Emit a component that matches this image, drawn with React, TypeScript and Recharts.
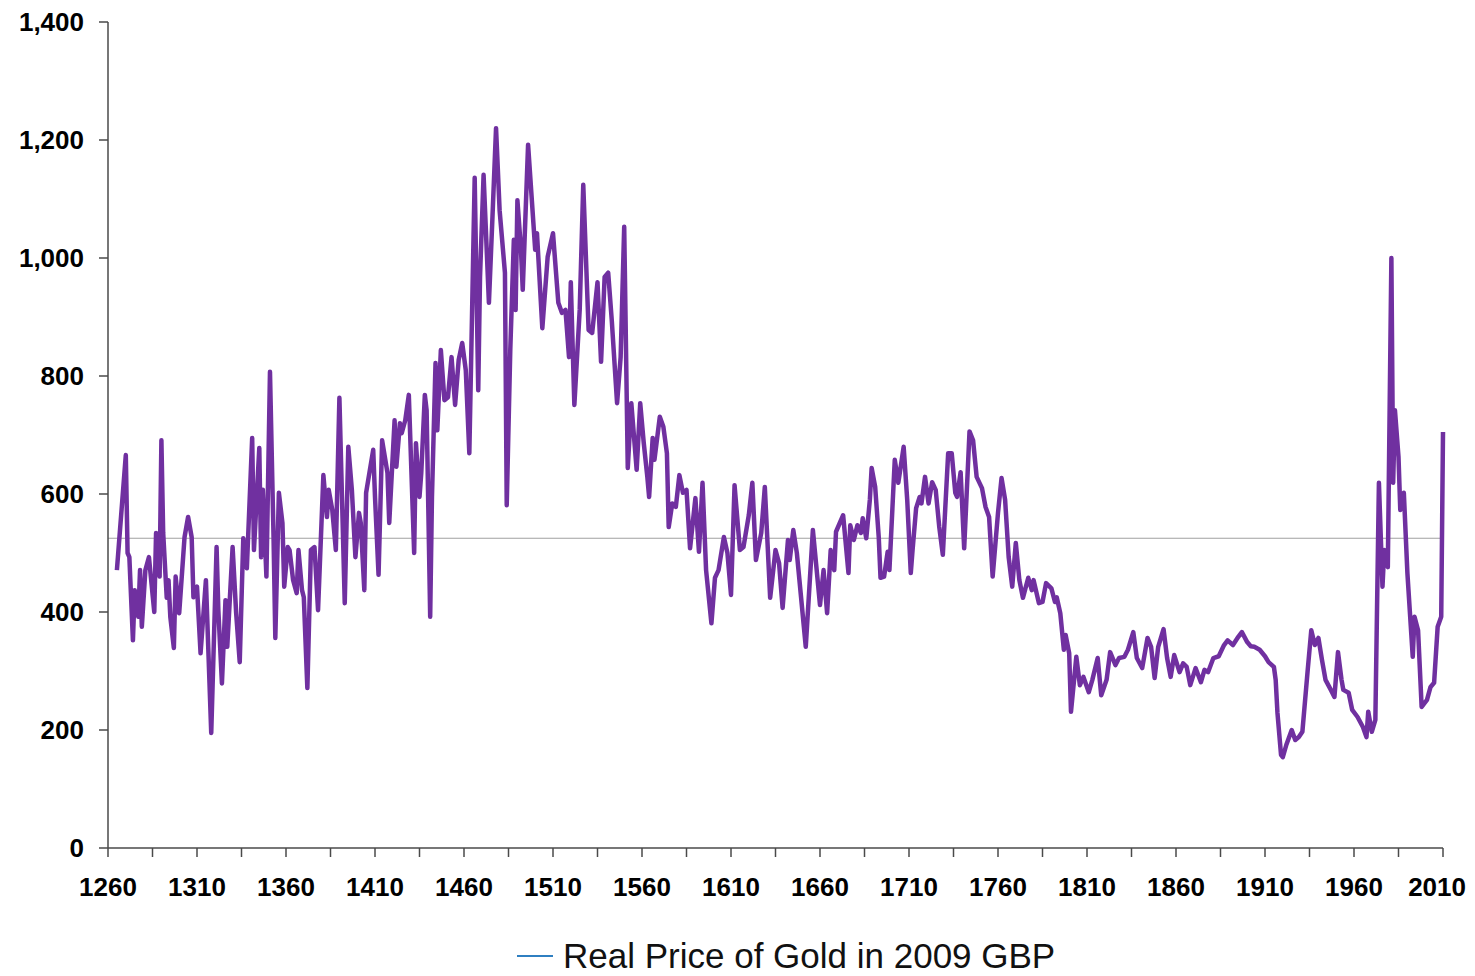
import React from 'react';
import { LineChart, Line, XAxis, YAxis, ReferenceLine, Legend } from 'recharts';

const years = [
  1265, 1270, 1271, 1272, 1274, 1275, 1277, 1278, 1279, 1281, 1283, 1286, 1287, 1289, 1290, 1291, 1293, 1294, 1295, 1297,
  1298, 1300, 1303, 1305, 1307, 1308, 1310, 1312, 1315, 1318, 1321, 1322, 1324, 1326, 1327, 1330, 1332, 1334, 1336, 1338,
  1341, 1342, 1345, 1346, 1347, 1349, 1351, 1353, 1354, 1356, 1358, 1359, 1361, 1362, 1364, 1366, 1367, 1369, 1370, 1372,
  1374, 1376, 1378, 1381, 1383, 1384, 1386, 1388, 1390, 1393, 1395, 1397, 1399, 1401, 1402, 1404, 1405, 1409, 1410, 1412,
  1414, 1417, 1418, 1421, 1422, 1424, 1425, 1427, 1429, 1432, 1433, 1435, 1436, 1438, 1439, 1441, 1442, 1444, 1445, 1447,
  1449, 1451, 1453, 1455, 1457, 1459, 1461, 1463, 1466, 1468, 1469, 1471, 1474, 1476, 1478, 1480, 1483, 1484, 1486, 1488,
  1489, 1490, 1492, 1493, 1496, 1500, 1501, 1504, 1507, 1510, 1513, 1515, 1517, 1519, 1520, 1522, 1525, 1527, 1530, 1532,
  1535, 1537, 1539, 1541, 1543, 1546, 1548, 1550, 1552, 1554, 1557, 1559, 1561, 1563, 1564, 1566, 1567, 1570, 1572, 1574,
  1575, 1577, 1579, 1581, 1583, 1585, 1587, 1590, 1592, 1594, 1596, 1599, 1601, 1603, 1606, 1608, 1610, 1612, 1615, 1617,
  1620, 1622, 1624, 1627, 1629, 1632, 1635, 1637, 1639, 1642, 1643, 1645, 1647, 1652, 1656, 1660, 1662, 1664, 1666, 1668,
  1669, 1673, 1676, 1677, 1679, 1681, 1683, 1684, 1686, 1688, 1689, 1691, 1693, 1694, 1696, 1698, 1699, 1702, 1704, 1707,
  1709, 1711, 1712, 1714, 1716, 1717, 1719, 1721, 1723, 1725, 1727, 1729, 1732, 1734, 1736, 1737, 1739, 1741, 1744, 1746,
  1748, 1751, 1753, 1755, 1757, 1760, 1762, 1764, 1766, 1768, 1770, 1772, 1774, 1777, 1779, 1780, 1783, 1785, 1787, 1790,
  1792, 1793, 1795, 1797, 1798, 1800, 1801, 1804, 1806, 1808, 1811, 1813, 1816, 1818, 1821, 1823, 1826, 1828, 1831, 1833,
  1836, 1838, 1841, 1844, 1846, 1848, 1850, 1853, 1855, 1857, 1859, 1862, 1864, 1866, 1868, 1871, 1874, 1876, 1878, 1881,
  1884, 1887, 1889, 1892, 1895, 1897, 1900, 1902, 1904, 1907, 1910, 1912, 1915, 1916, 1917, 1919, 1920, 1922, 1925, 1927,
  1929, 1931, 1934, 1936, 1938, 1940, 1942, 1944, 1947, 1949, 1951, 1953, 1954, 1957, 1959, 1962, 1965, 1967, 1968, 1970,
  1972, 1974, 1976, 1977, 1979, 1981, 1982, 1983, 1985, 1986, 1988, 1990, 1993, 1994, 1996, 1998, 2001, 2003, 2005, 2007,
  2009, 2010,
];

const prices = [
  471, 666, 500, 493, 352, 437, 392, 471, 375, 471, 493, 400, 534, 460, 691, 534, 424, 454, 392, 339,
  460, 398, 527, 561, 527, 425, 443, 330, 454, 195, 510, 403, 279, 420, 341, 510, 398, 315, 525, 474,
  695, 505, 678, 493, 607, 460, 807, 527, 356, 602, 551, 443, 510, 505, 454, 432, 505, 437, 425, 271,
  505, 510, 403, 632, 561, 607, 573, 505, 763, 415, 680, 607, 493, 568, 551, 437, 602, 675, 595, 463,
  691, 636, 551, 725, 646, 720, 703, 725, 768, 500, 686, 595, 636, 768, 742, 392, 595, 822, 708, 844,
  759, 764, 832, 751, 827, 856, 810, 669, 1136, 776, 968, 1141, 924, 1070, 1220, 1081, 975, 581, 844, 1031,
  912, 1098, 1014, 946, 1192, 1014, 1042, 881, 1002, 1042, 924, 907, 912, 832, 959, 751, 912, 1124, 878, 873,
  959, 824, 968, 975, 895, 754, 832, 1053, 644, 754, 641, 754, 686, 629, 595, 695, 658, 731, 714, 669,
  544, 584, 578, 632, 602, 607, 508, 593, 502, 619, 471, 381, 458, 471, 527, 500, 429, 615, 505, 510,
  564, 619, 488, 534, 612, 424, 505, 483, 407, 522, 488, 539, 500, 341, 539, 412, 471, 398, 505, 471,
  536, 564, 466, 547, 522, 547, 534, 559, 525, 590, 644, 612, 527, 458, 460, 502, 471, 658, 619, 680,
  590, 466, 505, 576, 595, 584, 629, 584, 620, 607, 544, 497, 669, 669, 602, 595, 637, 508, 706, 691,
  629, 610, 578, 561, 460, 568, 627, 590, 493, 443, 517, 454, 424, 458, 437, 454, 415, 417, 449, 440,
  417, 425, 398, 336, 361, 330, 231, 324, 276, 290, 264, 285, 322, 259, 285, 332, 310, 322, 324, 336,
  366, 322, 305, 356, 341, 288, 341, 371, 322, 290, 327, 298, 313, 307, 276, 305, 281, 302, 298, 322,
  325, 344, 352, 344, 358, 366, 349, 342, 341, 336, 325, 315, 307, 285, 229, 158, 154, 175, 200, 183,
  188, 197, 302, 369, 344, 356, 319, 285, 268, 256, 332, 285, 268, 263, 234, 222, 205, 188, 231, 197,
  217, 619, 443, 505, 476, 1000, 619, 742, 663, 573, 602, 466, 324, 392, 369, 239, 251, 273, 280, 375,
  392, 705,
];

const averagePrice = 525;

const xTicks = [
  1260, 1285, 1310, 1335, 1360, 1385, 1410, 1435, 1460, 1485, 1510, 1535, 1560, 1585, 1610, 1635,
  1660, 1685, 1710, 1735, 1760, 1785, 1810, 1835, 1860, 1885, 1910, 1935, 1960, 1985, 2010,
];
const yTicks = [0, 200, 400, 600, 800, 1000, 1200, 1400];

const seriesName = 'Real Price of Gold in 2009 GBP';

const data = years.map((year, i) => ({ year, price: prices[i] }));

const FONT = '"Liberation Sans", Arial, sans-serif';

const tickStyle = {
  fontFamily: FONT,
  fontWeight: 700,
  fontSize: 26,
  fill: '#000',
};

const lastXTick = xTicks[xTicks.length - 1];

const XTick = (props: any) => {
  const { x, y, payload } = props;
  const v = payload.value;
  if ((v - 1260) % 50 !== 0) return null;
  const isLast = v === lastXTick;
  return (
    <text
      x={isLast ? x + 23 : x}
      y={y}
      dy="0.71em"
      textAnchor={isLast ? 'end' : 'middle'}
      fontFamily={FONT}
      fontWeight={700}
      fontSize={26}
      fill="#000"
    >
      {String(v)}
    </text>
  );
};

const renderLegend = () => (
  <div
    style={{
      height: 24,
      display: 'flex',
      alignItems: 'center',
      paddingLeft: 509,
      fontFamily: FONT,
      fontSize: 35,
      color: '#111',
      whiteSpace: 'nowrap',
    }}
  >
    <span style={{ display: 'inline-block', width: 36, height: 2, background: '#2f7fc1', marginRight: 10 }} />
    <span>{seriesName}</span>
  </div>
);

export default function App() {
  return (
    <div style={{ width: 1459, height: 960 }}>
      <style>{'html { overflow: hidden; }'}</style>
      <LineChart
        width={1459}
        height={960}
        data={data}
        margin={{ top: 14, right: 24, bottom: 0, left: 0 }}
      >
        <XAxis
          dataKey="year"
          type="number"
          domain={[1260, 2010]}
          ticks={xTicks}
          interval={0}
          height={96}
          tick={<XTick />}
          tickSize={9}
          tickMargin={21}
          axisLine={{ stroke: '#4a4a4a', strokeWidth: 1.5 }}
          tickLine={{ stroke: '#4a4a4a', strokeWidth: 1.5 }}
        />
        <YAxis
          type="number"
          domain={[0, 1400]}
          ticks={yTicks}
          interval={0}
          width={100}
          tickFormatter={(v) => v.toLocaleString('en-US')}
          tick={tickStyle}
          tickSize={9}
          tickMargin={15}
          axisLine={{ stroke: '#4a4a4a', strokeWidth: 1.5 }}
          tickLine={{ stroke: '#4a4a4a', strokeWidth: 1.5 }}
        />
        <ReferenceLine y={averagePrice} stroke="#a0a0a0" strokeWidth={1.2} />
        <Line
          type="linear"
          dataKey="price"
          name={seriesName}
          stroke="#7030a0"
          strokeWidth={4.5}
          strokeLinejoin="round"
          dot={false}
          isAnimationActive={false}
        />
        <Legend verticalAlign="bottom" content={renderLegend} />
      </LineChart>
    </div>
  );
}
